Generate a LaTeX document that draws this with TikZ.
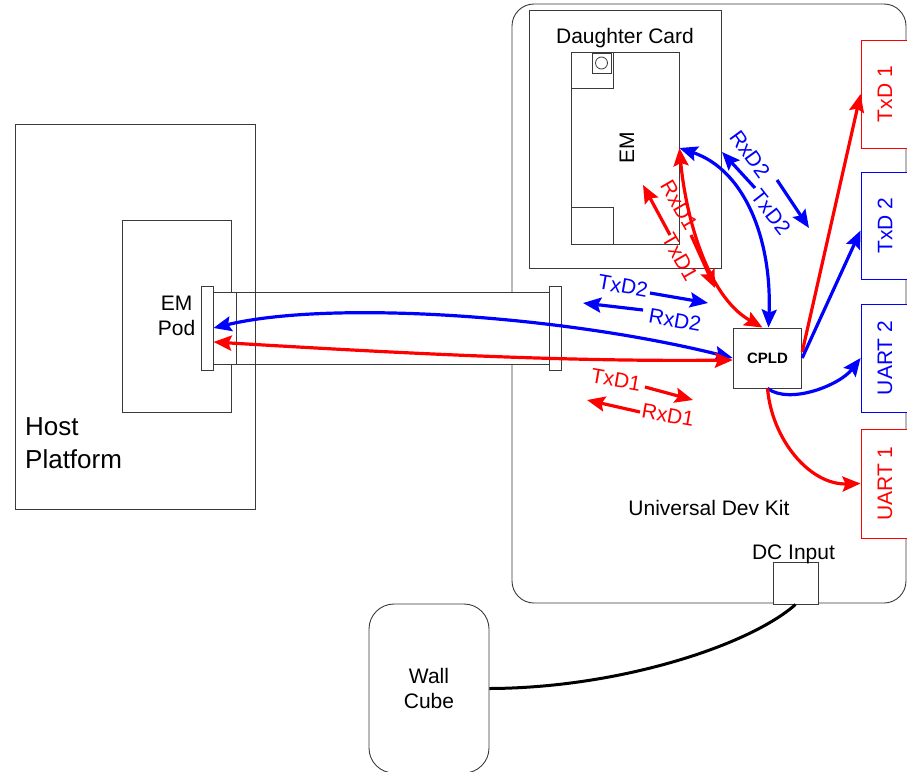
\documentclass[tikz,border=0pt]{standalone}
\usepackage{fontspec}
\setmainfont{Liberation Sans}
\usetikzlibrary{arrows.meta,positioning,calc}
\definecolor{sigRed}{HTML}{FF0000}
\definecolor{sigBlue}{HTML}{0000FF}
\definecolor{edgeGray}{HTML}{3A3A3A}
\tikzset{
  font=\fontsize{21}{25}\selectfont,
  box/.style  ={draw=edgeGray, fill=white, line width=0.9pt, inner sep=0pt, align=center},
  open/.style ={box, fill=none},
  rbox/.style ={box, rounded corners=22pt},
  port/.style ={draw, fill=white, line width=0.9pt, minimum width=48pt, inner sep=0pt},
  redport/.style ={port, draw=sigRed},
  blueport/.style={port, draw=sigBlue},
  arr/.style  ={->, line width=3.2pt},
  darr/.style ={<->, line width=3.2pt},
  power/.style={line width=3pt, black},
  lbl/.style  ={inner sep=0pt},
}

\begin{document}
\begin{tikzpicture}[x=1pt, y=-1pt, >={Stealth[length=18pt, width=15pt, inset=3pt]}]
  \useasboundingbox (0,0) rectangle (907,771);

  % host side: emulator pod box
  \node[open, minimum width=109pt, minimum height=192pt] (podbox) at (176.5,316) {EM\\Pod};

  % dev kit board and daughter card
  \node[rbox, fill=none, minimum width=394pt, minimum height=599pt] (kit) at (709,303.5) {};
  \node[open, minimum width=192pt, minimum height=258pt] (dcard) at (625,139) {};
  \node[lbl, anchor=base] (dcardtext) at (625,43) {Daughter Card};
  \node[box, minimum width=108pt, minimum height=192pt] (em) at (625,148) {};
  \node[open, minimum width=42pt, minimum height=36pt] (emcorner) at (592,70) {};
  \node[open, minimum width=19pt, minimum height=20pt] (emkey) at (601.5,63) {};
  \draw[edgeGray, line width=0.8pt] (emkey.center) circle (6pt);
  \node[open, minimum width=42pt, minimum height=37pt] (emfoot) at (592,225.5) {};
  \node[lbl, rotate=90] (emtext) at (627,148) {EM};

  % ribbon cable between pod and kit
  \node[box, minimum width=336pt, minimum height=72pt] (cable) at (381,328) {};
  \draw[edgeGray, line width=0.9pt] ([xshift=24pt]cable.north west) -- ([xshift=24pt]cable.south west);
  \node[box, minimum width=12pt, minimum height=84pt] (podconn) at (207,328) {};
  \node[box, minimum width=12pt, minimum height=84pt] (kitconn) at (555,328) {};
  \node[open, minimum width=240pt, minimum height=385pt] (host) at (135,316.5) {};
  \node[lbl, align=left, anchor=north west, font=\fontsize{26}{33}\selectfont] (hosttext) at (25,417) {Host\\Platform};

  % CPLD and the four outputs
  \node[box, minimum width=68.5pt, minimum height=60pt, font=\fontsize{15}{18}\selectfont\bfseries] (cpld) at (767.5,358) {CPLD};
  \node[redport,  minimum height=108pt, label={[rotate=90, text=sigRed]center:TxD 1}]   (txdone)  at (885,94)    {};
  \node[blueport, minimum height=107pt, label={[rotate=90, text=sigBlue]center:TxD 2}]  (txdtwo)  at (885,225.5) {};
  \node[blueport, minimum height=108pt, label={[rotate=90, text=sigBlue]center:UART 2}] (uarttwo) at (885,358)   {};
  \node[redport,  minimum height=109pt, label={[rotate=90, text=sigRed]center:UART 1}]  (uartone) at (885,483.5) {};

  \node[lbl, anchor=base] (kittext) at (709,515) {Universal Dev Kit};
  \node[box, minimum width=45pt, minimum height=42pt] (dcin) at (795.5,583) {};
  \node[lbl, anchor=base] (dcintext) at (793.5,559) {DC Input};
  \node[rbox, rounded corners=25pt, minimum width=120pt, minimum height=169pt] (wall) at (429,688.5) {Wall\\Cube};

  % main signal paths
  \draw[darr, sigBlue] (podconn.east) .. controls (330,300) and (560,315) .. (cpld.west);
  \draw[darr, sigRed] ([yshift=-14pt]podconn.east) .. controls (380,352) and (560,362) .. ([yshift=-2pt]cpld.west);
  \draw[darr, sigRed] (em.east) .. controls (685,210) and (705,295) .. ([xshift=-5pt]cpld.north);
  \draw[darr, sigBlue] (em.east) .. controls (745,170) and (772,240) .. ([xshift=1pt]cpld.north);
  \draw[arr, sigRed] ([yshift=6pt]cpld.east) -- (txdone.west);
  \draw[arr, sigBlue] (cpld.east) -- ([yshift=-5pt]txdtwo.west);
  \draw[arr, sigBlue] (cpld.south) .. controls (790,405) and (840,385) .. (uarttwo.west);
  \draw[arr, sigRed] (cpld.south) .. controls (772,440) and (810,485) .. (uartone.west);
  \draw[power] (dcin.south) .. controls (750,645) and (620,688) .. (wall.east);

  % direction tags, cable side
  \coordinate (tx2s) at (650,293);  \coordinate (tx2e) at (708,303);
  \coordinate (rx2s) at (643,310);  \coordinate (rx2e) at (583,303);
  \coordinate (tx1s) at (645,387);  \coordinate (tx1e) at (693,400);
  \coordinate (rx1s) at (640,412);  \coordinate (rx1e) at (587,400);
  \node[lbl, text=sigBlue, rotate=-10] (tx2text) at (623,286) {TxD2};
  \node[lbl, text=sigBlue, rotate=-10] (rx2text) at (675,320) {RxD2};
  \node[lbl, text=sigRed, rotate=-10]  (tx1text) at (616,380) {TxD1};
  \node[lbl, text=sigRed, rotate=-10]  (rx1text) at (668,415) {RxD1};
  \draw[arr, sigBlue] (tx2s) -- (tx2e);
  \draw[arr, sigBlue] (rx2s) -- (rx2e);
  \draw[arr, sigRed] (tx1s) -- (tx1e);
  \draw[arr, sigRed] (rx1s) -- (rx1e);

  % direction tags, daughter card side
  \coordinate (rx1ds) at (670,235); \coordinate (rx1de) at (643,185);
  \coordinate (tx1ds) at (691,235); \coordinate (tx1de) at (715,288);
  \coordinate (rx2ds) at (755,188); \coordinate (rx2de) at (722,152);
  \coordinate (tx2ds) at (777,180); \coordinate (tx2de) at (809,228);
  \node[lbl, text=sigRed, rotate=-60]  (rx1dtext) at (679,205) {RxD1};
  \node[lbl, text=sigRed, rotate=-60]  (tx1dtext) at (680,257) {TxD1};
  \node[lbl, text=sigBlue, rotate=-54] (rx2dtext) at (750,154) {RxD2};
  \node[lbl, text=sigBlue, rotate=-52] (tx2dtext) at (771,212) {TxD2};
  \draw[arr, sigRed] (rx1ds) -- (rx1de);
  \draw[arr, sigRed] (tx1ds) -- (tx1de);
  \draw[arr, sigBlue] (rx2ds) -- (rx2de);
  \draw[arr, sigBlue] (tx2ds) -- (tx2de);
\end{tikzpicture}
\end{document}
